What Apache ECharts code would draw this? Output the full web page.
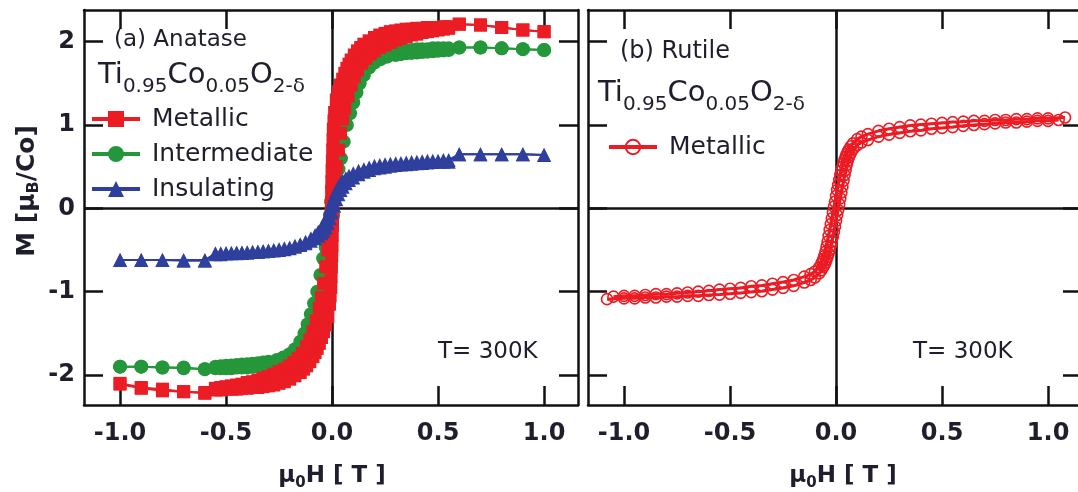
<!DOCTYPE html>
<html><head><meta charset="utf-8">
<script src="https://cdn.jsdelivr.net/npm/echarts@6/dist/echarts.min.js"></script>
<style>html,body{margin:0;padding:0;background:#fff}#c{width:1078px;height:492px}</style>
</head><body><div id="c"></div>
<script>
// ---------- data (field mu0H [T], magnetisation M [muB/Co]) ----------
const xTicks = [-1.0, -0.5, 0.0, 0.5, 1.0];
const yTicks = [-2, -1, 0, 1, 2];
const legendA = ['Metallic', 'Intermediate', 'Insulating'];
const legendB = ['Metallic'];

// (a) Anatase, Metallic: descending branch (+1 -> -1) and ascending branch (-1 -> +1)
const anaMetallicDown = [[1.0,2.12],[0.9,2.14],[0.8,2.17],[0.7,2.2],[0.6,2.21],
 [0.55,2.18],[0.525,2.18],[0.5,2.17],[0.475,2.17],[0.45,2.17],[0.425,2.16],[0.4,2.16],[0.375,2.15],[0.35,2.15],[0.325,2.14],[0.3,2.13],[0.275,2.12],[0.25,2.1],[0.225,2.08],[0.2,2.05],[0.175,2.01],[0.15,1.97],[0.135,1.93],[0.12,1.89],[0.105,1.84],[0.09,1.78],[0.08,1.73],[0.07,1.68],[0.06,1.62],[0.05,1.55],[0.04,1.48],[0.03,1.4],[0.02,1.3],[0.012,1.15],[0.009,1.05],[0.006,0.95],[0.0045,0.82],[0.003,0.7],[0.0015,0.57],[0.0,0.45],[-0.001,0.32],[-0.002,0.2],[-0.003,0.07],[-0.004,-0.05],
 [-0.008,-0.2],[-0.013,-0.35],[-0.02,-0.5],[-0.03,-0.7],[-0.04,-0.9],[-0.05,-1.07],[-0.06,-1.2],[-0.075,-1.35],[-0.09,-1.48],[-0.105,-1.58],[-0.12,-1.66],[-0.14,-1.74],[-0.16,-1.8],[-0.18,-1.85],[-0.2,-1.89],[-0.225,-1.93],[-0.25,-1.96],[-0.275,-1.99],[-0.3,-2.02],[-0.325,-2.04],[-0.35,-2.06],[-0.375,-2.08],[-0.4,-2.09],[-0.425,-2.11],[-0.45,-2.12],[-0.475,-2.13],[-0.5,-2.14],[-0.525,-2.15],[-0.55,-2.16],
 [-0.6,-2.22],[-0.7,-2.2],[-0.8,-2.17],[-0.9,-2.15],[-1.0,-2.1]];
const anaMetallicUp = [[-1.0,-2.11],[-0.9,-2.16],[-0.8,-2.19],[-0.7,-2.2],[-0.6,-2.21],
 [-0.55,-2.18],[-0.525,-2.18],[-0.5,-2.17],[-0.475,-2.17],[-0.45,-2.17],[-0.425,-2.16],[-0.4,-2.16],[-0.375,-2.15],[-0.35,-2.15],[-0.325,-2.14],[-0.3,-2.13],[-0.275,-2.12],[-0.25,-2.1],[-0.225,-2.08],[-0.2,-2.05],[-0.175,-2.01],[-0.15,-1.97],[-0.135,-1.93],[-0.12,-1.89],[-0.105,-1.84],[-0.09,-1.78],[-0.08,-1.73],[-0.07,-1.68],[-0.06,-1.62],[-0.05,-1.55],[-0.04,-1.48],[-0.03,-1.4],[-0.02,-1.3],[-0.012,-1.15],[-0.009,-1.05],[-0.006,-0.95],[-0.0045,-0.82],[-0.003,-0.7],[-0.0015,-0.57],[0.0,-0.45],[0.001,-0.32],[0.002,-0.2],[0.003,-0.07],[0.004,0.05],
 [0.008,0.2],[0.013,0.35],[0.02,0.5],[0.03,0.7],[0.04,0.9],[0.05,1.07],[0.06,1.2],[0.075,1.35],[0.09,1.48],[0.105,1.58],[0.12,1.66],[0.14,1.74],[0.16,1.8],[0.18,1.85],[0.2,1.89],[0.225,1.93],[0.25,1.96],[0.275,1.99],[0.3,2.02],[0.325,2.04],[0.35,2.06],[0.375,2.08],[0.4,2.09],[0.425,2.11],[0.45,2.12],[0.475,2.13],[0.5,2.14],[0.525,2.15],[0.55,2.16],
 [0.6,2.21],[0.7,2.2],[0.8,2.17],[0.9,2.14],[1.0,2.12]];

// (a) Anatase, Intermediate
const anaInterDown = [[1.0,1.9],[0.9,1.91],[0.8,1.92],[0.7,1.93],[0.6,1.93],
 [0.55,1.92],[0.525,1.92],[0.5,1.92],[0.475,1.92],[0.45,1.91],[0.425,1.91],[0.4,1.91],[0.375,1.9],[0.35,1.9],[0.325,1.9],[0.3,1.89],[0.275,1.88],[0.25,1.87],[0.225,1.86],[0.2,1.84],[0.175,1.81],[0.15,1.77],[0.125,1.71],[0.1,1.62],[0.08,1.52],[0.06,1.38],[0.045,1.22],[0.035,1.08],[0.025,0.9],[0.018,0.75],[0.012,0.6],[0.006,0.42],[0.0,0.25],[-0.005,0.08],[-0.01,-0.08],[-0.015,-0.22],
 [-0.022,-0.35],[-0.03,-0.47],[-0.042,-0.6],[-0.055,-0.8],[-0.07,-1.0],[-0.085,-1.14],[-0.1,-1.27],[-0.115,-1.39],[-0.13,-1.5],[-0.15,-1.6],[-0.175,-1.69],[-0.2,-1.75],[-0.23,-1.79],[-0.26,-1.82],[-0.3,-1.84],[-0.325,-1.85],[-0.35,-1.86],[-0.375,-1.865],[-0.4,-1.87],[-0.425,-1.875],[-0.45,-1.88],[-0.475,-1.885],[-0.5,-1.89],[-0.525,-1.895],[-0.55,-1.9],
 [-0.6,-1.93],[-0.7,-1.91],[-0.8,-1.91],[-0.9,-1.9],[-1.0,-1.9]];
const anaInterUp = [[-1.0,-1.9],[-0.9,-1.9],[-0.8,-1.91],[-0.7,-1.92],[-0.6,-1.93],
 [-0.55,-1.92],[-0.525,-1.92],[-0.5,-1.92],[-0.475,-1.92],[-0.45,-1.91],[-0.425,-1.91],[-0.4,-1.91],[-0.375,-1.9],[-0.35,-1.9],[-0.325,-1.9],[-0.3,-1.89],[-0.275,-1.88],[-0.25,-1.87],[-0.225,-1.86],[-0.2,-1.84],[-0.175,-1.81],[-0.15,-1.77],[-0.125,-1.71],[-0.1,-1.62],[-0.08,-1.52],[-0.06,-1.38],[-0.045,-1.22],[-0.035,-1.08],[-0.025,-0.9],[-0.018,-0.75],[-0.012,-0.6],[-0.006,-0.42],[0.0,-0.25],[0.005,-0.08],[0.01,0.08],[0.015,0.22],
 [0.022,0.35],[0.03,0.47],[0.042,0.6],[0.055,0.8],[0.07,1.0],[0.085,1.14],[0.1,1.27],[0.115,1.39],[0.13,1.5],[0.15,1.6],[0.175,1.69],[0.2,1.75],[0.23,1.79],[0.26,1.82],[0.3,1.84],[0.325,1.85],[0.35,1.86],[0.375,1.865],[0.4,1.87],[0.425,1.875],[0.45,1.88],[0.475,1.885],[0.5,1.89],[0.525,1.895],[0.55,1.9],
 [0.6,1.93],[0.7,1.93],[0.8,1.92],[0.9,1.91],[1.0,1.9]];

// (a) Anatase, Insulating
const anaInsulDown = [[1.0,0.64],[0.9,0.65],[0.8,0.65],[0.7,0.65],[0.6,0.65],
 [0.55,0.58],[0.525,0.58],[0.5,0.57],[0.475,0.57],[0.45,0.57],[0.425,0.565],[0.4,0.56],[0.375,0.555],[0.35,0.55],[0.325,0.545],[0.3,0.54],[0.275,0.535],[0.25,0.53],[0.225,0.52],[0.2,0.51],[0.175,0.49],[0.15,0.47],[0.125,0.45],[0.1,0.42],[0.08,0.39],[0.065,0.36],[0.05,0.33],[0.04,0.3],[0.03,0.26],[0.02,0.21],[0.01,0.15],[0.0,0.08],[-0.01,0.0],[-0.02,-0.08],[-0.03,-0.14],[-0.04,-0.19],[-0.05,-0.23],[-0.065,-0.28],[-0.08,-0.32],[-0.1,-0.36],[-0.125,-0.4],[-0.15,-0.43],[-0.175,-0.45],[-0.2,-0.47],[-0.225,-0.48],[-0.25,-0.49],[-0.275,-0.5],[-0.3,-0.51],[-0.325,-0.515],[-0.35,-0.52],[-0.375,-0.525],[-0.4,-0.53],[-0.425,-0.53],[-0.45,-0.53],[-0.475,-0.535],[-0.5,-0.54],[-0.525,-0.54],[-0.55,-0.54],
 [-0.6,-0.62],[-0.7,-0.62],[-0.8,-0.62],[-0.9,-0.62],[-1.0,-0.62]];
const anaInsulUp = [[-1.0,-0.62],[-0.9,-0.62],[-0.8,-0.62],[-0.7,-0.63],[-0.6,-0.63],
 [-0.55,-0.55],[-0.525,-0.55],[-0.5,-0.54],[-0.475,-0.54],[-0.45,-0.54],[-0.425,-0.535],[-0.4,-0.53],[-0.375,-0.525],[-0.35,-0.52],[-0.325,-0.515],[-0.3,-0.51],[-0.275,-0.505],[-0.25,-0.5],[-0.225,-0.49],[-0.2,-0.48],[-0.175,-0.46],[-0.15,-0.44],[-0.125,-0.42],[-0.1,-0.39],[-0.08,-0.36],[-0.065,-0.33],[-0.05,-0.3],[-0.04,-0.27],[-0.03,-0.23],[-0.02,-0.18],[-0.01,-0.12],[0.0,-0.05],[0.01,0.03],[0.02,0.11],[0.03,0.17],[0.04,0.22],[0.05,0.26],[0.065,0.3],[0.08,0.34],[0.1,0.37],[0.125,0.41],[0.15,0.44],[0.175,0.46],[0.2,0.48],[0.225,0.49],[0.25,0.5],[0.275,0.51],[0.3,0.52],[0.325,0.525],[0.35,0.53],[0.375,0.535],[0.4,0.54],[0.425,0.545],[0.45,0.55],[0.475,0.555],[0.5,0.56],[0.525,0.56],[0.55,0.56],
 [0.6,0.65],[0.7,0.65],[0.8,0.65],[0.9,0.65],[1.0,0.64]];

// (b) Rutile, Metallic
const rutMetallicDown = [[1.08,1.09],[1.0,1.08],[0.95,1.08],[0.9,1.07],[0.85,1.07],[0.8,1.06],[0.75,1.06],[0.7,1.05],[0.65,1.05],[0.6,1.04],[0.55,1.035],[0.5,1.025],[0.45,1.015],[0.4,1.005],[0.35,0.995],[0.3,0.975],[0.25,0.955],[0.2,0.93],[0.15,0.89],[0.12,0.86],[0.1,0.83],[0.08,0.78],[0.07,0.745],[0.06,0.705],[0.055,0.68],[0.05,0.65],[0.045,0.62],[0.04,0.58],[0.035,0.54],[0.03,0.5],[0.025,0.45],[0.02,0.4],[0.015,0.34],[0.01,0.28],[0.005,0.22],[0.0,0.15],[-0.005,0.08],[-0.01,0.02],[-0.015,-0.05],[-0.02,-0.12],[-0.025,-0.19],[-0.03,-0.26],[-0.035,-0.33],[-0.04,-0.4],[-0.045,-0.46],[-0.05,-0.52],[-0.055,-0.57],[-0.06,-0.61],[-0.065,-0.64],[-0.07,-0.665],[-0.08,-0.71],[-0.1,-0.76],[-0.12,-0.79],[-0.15,-0.82],[-0.2,-0.86],[-0.25,-0.885],[-0.3,-0.905],[-0.35,-0.925],[-0.4,-0.935],[-0.45,-0.955],[-0.5,-0.965],[-0.55,-0.975],[-0.6,-0.99],[-0.65,-1.0],[-0.7,-1.01],[-0.75,-1.02],[-0.8,-1.03],[-0.85,-1.03],[-0.9,-1.04],[-0.95,-1.05],[-1.0,-1.05],[-1.05,-1.06]];
const rutMetallicUp = [[-1.08,-1.09],[-1.0,-1.08],[-0.95,-1.08],[-0.9,-1.07],[-0.85,-1.07],[-0.8,-1.06],[-0.75,-1.06],[-0.7,-1.05],[-0.65,-1.05],[-0.6,-1.04],[-0.55,-1.035],[-0.5,-1.025],[-0.45,-1.015],[-0.4,-1.005],[-0.35,-0.995],[-0.3,-0.975],[-0.25,-0.955],[-0.2,-0.93],[-0.15,-0.89],[-0.12,-0.86],[-0.1,-0.83],[-0.08,-0.78],[-0.07,-0.745],[-0.06,-0.705],[-0.055,-0.68],[-0.05,-0.65],[-0.045,-0.62],[-0.04,-0.58],[-0.035,-0.54],[-0.03,-0.5],[-0.025,-0.45],[-0.02,-0.4],[-0.015,-0.34],[-0.01,-0.28],[-0.005,-0.22],[0.0,-0.15],[0.005,-0.08],[0.01,-0.02],[0.015,0.05],[0.02,0.12],[0.025,0.19],[0.03,0.26],[0.035,0.33],[0.04,0.4],[0.045,0.46],[0.05,0.52],[0.055,0.57],[0.06,0.61],[0.065,0.64],[0.07,0.665],[0.08,0.71],[0.1,0.76],[0.12,0.79],[0.15,0.82],[0.2,0.86],[0.25,0.885],[0.3,0.905],[0.35,0.925],[0.4,0.935],[0.45,0.955],[0.5,0.965],[0.55,0.975],[0.6,0.99],[0.65,1.0],[0.7,1.01],[0.75,1.02],[0.8,1.03],[0.85,1.03],[0.9,1.04],[0.95,1.05],[1.0,1.05],[1.05,1.06]];

// ---------- styling / layout ----------
const FONT = 'DejaVu Sans';
const TXT = '#1e1e2c';
const AX = '#111';
const RED = '#ec1c24', GREEN = '#25973b', BLUE = '#2f3f9e';
const X_MIN = -1.17, X_MAX = 1.16, Y_MIN = -2.36, Y_MAX = 2.38;

function xAx(grid, pos, labels) {
  return {type: 'value', gridIndex: grid, position: pos, min: X_MIN, max: X_MAX,
    axisLine: {show: true, onZero: false, lineStyle: {color: AX, width: 2.5}},
    axisTick: {show: true, inside: true, length: 19, customValues: xTicks, lineStyle: {color: AX, width: 2.5}},
    axisLabel: {show: labels, customValues: xTicks, formatter: v => Number(v).toFixed(1), margin: 17,
      fontFamily: FONT, fontWeight: 'bold', fontSize: 24, color: TXT},
    splitLine: {show: false}};
}
function yAx(grid, pos, labels) {
  return {type: 'value', gridIndex: grid, position: pos, min: Y_MIN, max: Y_MAX,
    axisLine: {show: true, onZero: false, lineStyle: {color: AX, width: 2.5}},
    axisTick: {show: true, inside: true, length: 19, customValues: yTicks, lineStyle: {color: AX, width: 2.5}},
    axisLabel: {show: labels, customValues: yTicks, formatter: v => String(Math.round(v)), margin: 9,
      fontFamily: FONT, fontWeight: 'bold', fontSize: 24, color: TXT},
    splitLine: {show: false}};
}
function zeroLines(axIdx) {
  return {type: 'line', name: 'zero' + axIdx, xAxisIndex: axIdx, yAxisIndex: axIdx, data: [], silent: true,
    markLine: {silent: true, symbol: 'none', z: 1, animation: false,
      label: {show: false}, lineStyle: {color: AX, width: 2.5, type: 'solid'},
      data: [{xAxis: 0}, {yAxis: 0}]}};
}
function dataSeries(name, data, axIdx, symbol, size, color, lw, extra) {
  return Object.assign({type: 'line', name: name, data: data, xAxisIndex: axIdx, yAxisIndex: axIdx,
    symbol: symbol, symbolSize: size, showAllSymbol: true, z: 10, silent: true,
    itemStyle: {color: color}, lineStyle: {color: color, width: lw}}, extra || {});
}
const openCircle = {itemStyle: {color: 'rgba(255,255,255,0)', borderColor: RED, borderWidth: 1.6}};

const subRich = (fs, sfs, pad) => ({
  m: {fontSize: fs, fontFamily: FONT, fill: TXT},
  s: {fontSize: sfs, fontFamily: FONT, fill: TXT, padding: [pad, 0, 0, 0]}
});
function txt(x, y, text, fs, opts) {
  return Object.assign({type: 'text', x: x, y: y, z: 50, silent: true,
    style: Object.assign({text: text, fontSize: fs, fontFamily: FONT, fill: TXT, align: 'left', verticalAlign: 'middle'}, (opts && opts.style) || {})},
    (opts && opts.el) || {});
}
const legendText = {fontFamily: FONT, fontSize: 25, color: TXT, lineHeight: 30, padding: [0, 0, 0, 7]};

const chart = echarts.init(document.getElementById('c'), null, {renderer: 'canvas'});
chart.setOption({
  animation: false,
  backgroundColor: '#fff',
  grid: [
    {left: 84, top: 10, width: 494, height: 395, show: false, containLabel: false, outerBoundsMode: 'none'},
    {left: 588, top: 10, width: 494, height: 395, show: false, containLabel: false, outerBoundsMode: 'none'}
  ],
  xAxis: [xAx(0, 'bottom', true), xAx(0, 'top', false), xAx(1, 'bottom', true), xAx(1, 'top', false)],
  yAxis: [yAx(0, 'left', true), yAx(0, 'right', false), yAx(1, 'left', false), yAx(1, 'right', false)],
  legend: [
    {data: legendA, orient: 'vertical', left: 90, top: 104, padding: 0, itemWidth: 48, itemHeight: 20, itemGap: 5,
      selectedMode: false, lineStyle: {width: 4}, textStyle: legendText},
    {data: legendB.map(n => n + ' (b)'), orient: 'vertical', left: 607, top: 132, padding: 0, itemWidth: 48, itemHeight: 18,
      selectedMode: false, lineStyle: {width: 4}, formatter: n => n.replace(' (b)', ''), textStyle: legendText}
  ],
  series: [
    zeroLines(0), zeroLines(2),
    dataSeries('Intermediate', anaInterDown, 0, 'circle', 14, GREEN, 2),
    dataSeries('Intermediate', anaInterUp, 0, 'circle', 14, GREEN, 2),
    dataSeries('Metallic', anaMetallicDown, 0, 'rect', 13, RED, 2),
    dataSeries('Metallic', anaMetallicUp, 0, 'rect', 13, RED, 2),
    dataSeries('Insulating', anaInsulDown, 0, 'triangle', 14, BLUE, 2),
    dataSeries('Insulating', anaInsulUp, 0, 'triangle', 14, BLUE, 2),
    dataSeries('Metallic (b)', rutMetallicDown, 2, 'circle', 11, RED, 3, openCircle),
    dataSeries('Metallic (b)', rutMetallicUp, 2, 'circle', 11, RED, 3, openCircle)
  ],
  graphic: [
    txt(114, 40, '(a) Anatase', 23),
    txt(98, 75, '{m|Ti}{s|0.95}{m|Co}{s|0.05}{m|O}{s|2-δ}', 29, {style: {rich: subRich(29, 20, 24)}}),
    txt(620, 52, '(b) Rutile', 24),
    txt(598, 93, '{m|Ti}{s|0.95}{m|Co}{s|0.05}{m|O}{s|2-δ}', 29, {style: {rich: subRich(29, 20, 24)}}),
    txt(438, 352, 'T= 300K', 23),
    txt(913, 352, 'T= 300K', 23),
    txt(332, 476, '{m|μ}{s|0}{m|H [ T ]}', 23, {style: {align: 'center', fontWeight: 'bold',
      rich: {m: {fontSize: 23, fontFamily: FONT, fontWeight: 'bold', fill: TXT},
             s: {fontSize: 15, fontFamily: FONT, fontWeight: 'bold', fill: TXT, padding: [14, 0, 0, 0]}}}}),
    txt(843, 476, '{m|μ}{s|0}{m|H [ T ]}', 23, {style: {align: 'center', fontWeight: 'bold',
      rich: {m: {fontSize: 23, fontFamily: FONT, fontWeight: 'bold', fill: TXT},
             s: {fontSize: 15, fontFamily: FONT, fontWeight: 'bold', fill: TXT, padding: [14, 0, 0, 0]}}}}),
    txt(27, 191, '{m|M [μ}{s|B}{m|/Co]}', 25, {el: {rotation: Math.PI / 2}, style: {align: 'center', fontWeight: 'bold',
      rich: {m: {fontSize: 25, fontFamily: FONT, fontWeight: 'bold', fill: TXT},
             s: {fontSize: 16, fontFamily: FONT, fontWeight: 'bold', fill: TXT, padding: [14, 0, 0, 0]}}}})
  ]
});
</script>
</body></html>
